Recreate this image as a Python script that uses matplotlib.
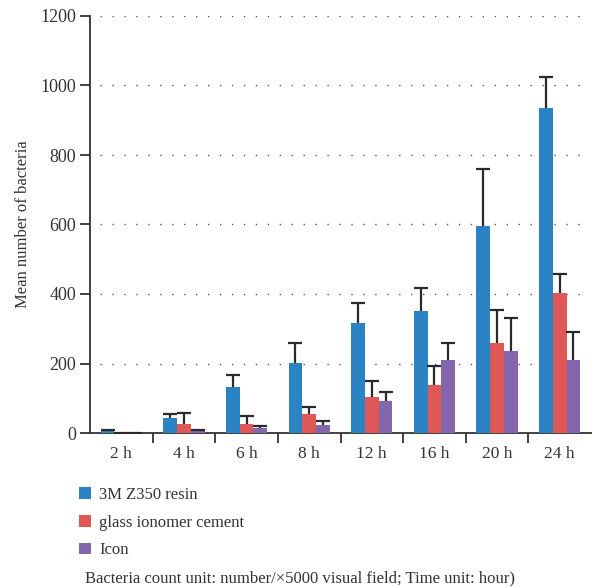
import matplotlib
matplotlib.use("Agg")
import matplotlib.pyplot as plt
from matplotlib.patches import Patch
import numpy as np

plt.rcParams['font.family'] = ['Liberation Serif', 'DejaVu Serif']

categories = ["2 h", "4 h", "6 h", "8 h", "12 h", "16 h", "20 h", "24 h"]
series_names = ["3M Z350 resin", "glass ionomer cement", "Icon"]
resin_mean = [5, 43, 133, 202, 317, 352, 597, 935]
resin_err = [3, 11, 33, 57, 57, 65, 163, 89]
gic_mean = [1, 26, 26, 55, 104, 138, 260, 404]
gic_err = [0, 31, 23, 21, 45, 56, 94, 54]
icon_mean = [1, 6, 15, 23, 92, 211, 235, 211]
icon_err = [0, 4, 5, 11, 26, 48, 97, 80]
colors = ["#2b83c3", "#df5756", "#8466ad"]
footnote = "Bacteria count unit: number/\u00d75000 visual field; Time unit: hour)"

fig = plt.figure(figsize=(5.96, 5.87), dpi=100)
ax = fig.add_axes([90 / 596, 1 - 433 / 587, 501 / 596, 417 / 587])

x = np.arange(len(categories))
w = 0.22
means = [resin_mean, gic_mean, icon_mean]
errs = [resin_err, gic_err, icon_err]
for i, (m, e, c) in enumerate(zip(means, errs, colors)):
    pos = x + (i - 1) * w
    ax.bar(pos, m, width=w, color=c, zorder=3, label=series_names[i])
    eb = ax.errorbar(pos, m, yerr=[np.zeros(len(m)), e], fmt='none',
                     ecolor='#2a2a2a', elinewidth=1.6, capsize=5,
                     capthick=1.6, zorder=4)
    # keep only the upper caps
    eb.lines[1][0].set_visible(False)

ax.set_xlim(-0.5, len(categories) - 0.5)
ax.set_ylim(0, 1200)
ax.set_yticks(np.arange(0, 1201, 200))
ax.set_xticks(x)
ax.set_xticklabels(categories)
ax.set_xticks(np.arange(0.5, len(categories) - 0.5, 1), minor=True)
ax.tick_params(axis='x', which='major', length=0, pad=9, labelsize=12.5,
               labelcolor='#333333')
ax.tick_params(axis='x', which='minor', length=7, width=1.3, color='#333333')
ax.tick_params(axis='y', length=7, width=1.3, color='#333333', labelsize=13,
               pad=3, labelcolor='#333333')

for v in range(200, 1201, 200):
    ax.axhline(v, xmin=0.02, xmax=0.99, color='#555555', lw=1.0,
               linestyle=(0, (1, 7.6)), zorder=1)

for s in ['top', 'right']:
    ax.spines[s].set_visible(False)
for s in ['left', 'bottom']:
    ax.spines[s].set_linewidth(1.3)
    ax.spines[s].set_color('#333333')

ax.set_ylabel("Mean number of bacteria", fontsize=12, labelpad=7,
              color='#333333')

handles = [Patch(facecolor=c, edgecolor='none') for c in colors]
fig.legend(handles, series_names, loc='upper left',
           bbox_to_anchor=(64 / 596, 1 - 472 / 587), frameon=False,
           fontsize=12, handlelength=0.7, handleheight=0.7,
           handletextpad=0.5, labelspacing=0.7, labelcolor='#333333')

fig.text(85 / 596, 1 - 578 / 587, footnote, fontsize=12, va='center',
         ha='left', color='#333333')

fig.savefig("out.png", dpi=100)
